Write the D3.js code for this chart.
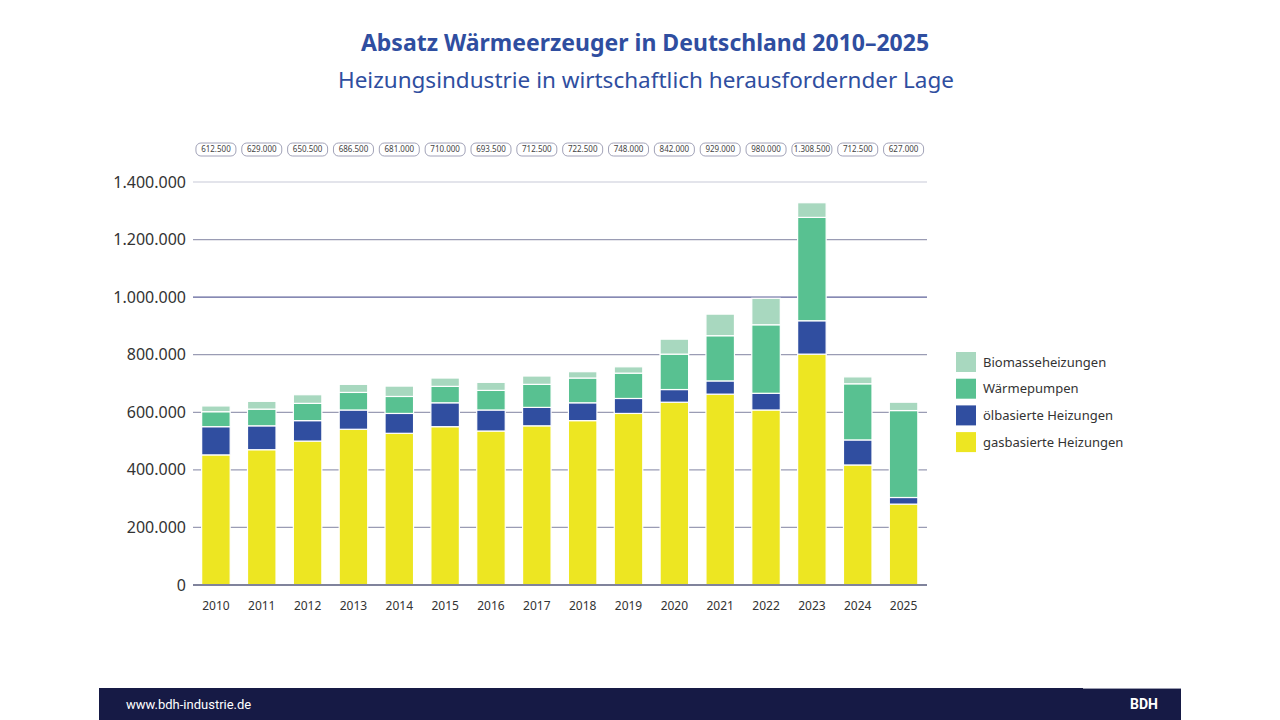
<!DOCTYPE html>
<html>
<head>
<meta charset="utf-8">
<script src="https://cdn.jsdelivr.net/npm/d3@7"></script>
<style>
  body { margin: 0; background: #fff; }
  svg { display: block; font-family: "Noto Sans", sans-serif; }
</style>
</head>
<body>
<svg id="chart" width="1280" height="720"></svg>
<script>
// values in units
var years = ["2010","2011","2012","2013","2014","2015","2016","2017","2018","2019","2020","2021","2022","2023","2024","2025"];
var gas = [452000,470000,500000,541000,527000,550000,535000,553000,571000,596000,635000,663000,608000,802000,417000,281000];
var oil = [98000,83000,71000,67000,69000,83000,73000,64000,62000,52000,44000,46000,58000,116000,87000,23000];
var heatpump = [52000,58000,60000,61000,59000,57000,68000,80000,86000,88000,123000,157000,238000,359000,195000,302000];
var biomass = [20000,27000,30000,28000,36000,29000,28000,29000,22000,22000,52000,75000,92000,51000,24000,29000];
var totalLabels = ["612.500","629.000","650.500","686.500","681.000","710.000","693.500","712.500","722.500","748.000","842.000","929.000","980.000","1.308.500","712.500","627.000"];
var yTicks = [0,200000,400000,600000,800000,1000000,1200000,1400000];

var seriesKeys = ["gas","oil","heatpump","biomass"];
var seriesNames = {gas:"gasbasierte Heizungen", oil:"ölbasierte Heizungen", heatpump:"Wärmepumpen", biomass:"Biomasseheizungen"};
var colors = {gas:"#ede622", oil:"#304ea0", heatpump:"#58c191", biomass:"#a8d8bf"};

var rows = years.map(function(y, i) {
  return {year:y, gas:gas[i], oil:oil[i], heatpump:heatpump[i], biomass:biomass[i]};
});

var de = d3.formatLocale({decimal:",", thousands:".", grouping:[3], currency:["","€"]});
var fmt = de.format(",d");

var svg = d3.select("#chart");

var x = d3.scaleBand().domain(years).range([193, 926.5]).paddingInner(0.378).paddingOuter(0.189);
var y = d3.scaleLinear().domain([0, 1400000]).range([585, 182]);

// title
svg.append("text").attr("x", 645).attr("y", 51).attr("text-anchor", "middle")
  .style("font-size", "23px").style("font-weight", "bold").style("fill", "#2f4ea0")
  .text("Absatz Wärmeerzeuger in Deutschland 2010–2025");
svg.append("text").attr("x", 646).attr("y", 88).attr("text-anchor", "middle")
  .style("font-size", "22.5px").style("fill", "#2f4ea0")
  .text("Heizungsindustrie in wirtschaftlich herausfordernder Lage");

// gridlines
function gridColor(d) {
  if (d === 1400000) return "#c8cad8";
  if (d === 1000000) return "#5e629a";
  return "#9a9cb4";
}
svg.append("g").selectAll("line").data(yTicks.filter(function(d){ return d > 0; })).join("line")
  .attr("x1", 193).attr("x2", 927)
  .attr("y1", function(d){ return y(d); }).attr("y2", function(d){ return y(d); })
  .attr("stroke", gridColor).attr("stroke-width", 1.2);

// y labels
svg.append("g").selectAll("text").data(yTicks).join("text")
  .attr("x", 186).attr("y", function(d){ return y(d); }).attr("dy", "0.35em")
  .attr("text-anchor", "end").style("font-size", "16px").style("fill", "#333")
  .text(function(d){ return fmt(d); });

// stacked bars
var stack = d3.stack().keys(seriesKeys)(rows);
svg.append("g").selectAll("g").data(stack).join("g")
  .attr("fill", function(s){ return colors[s.key]; })
  .selectAll("rect").data(function(s){ return s; }).join("rect")
  .attr("x", function(d){ return x(d.data.year); })
  .attr("width", x.bandwidth())
  .attr("y", function(d){ return y(d[1]); })
  .attr("height", function(d){ return y(d[0]) - y(d[1]); })
  .attr("stroke", "#fff").attr("stroke-width", 1.2);

// baseline
svg.append("line").attr("x1", 193).attr("x2", 927).attr("y1", y(0)).attr("y2", y(0))
  .attr("stroke", "#80839c").attr("stroke-width", 2);

// x labels
svg.append("g").selectAll("text").data(years).join("text")
  .attr("x", function(d){ return x(d) + x.bandwidth() / 2; }).attr("y", 610)
  .attr("text-anchor", "middle").style("font-size", "12px").style("fill", "#333")
  .text(function(d){ return d; });

// total pills
var pills = svg.append("g").selectAll("g").data(years).join("g")
  .attr("transform", function(d){ return "translate(" + (x(d) + x.bandwidth() / 2) + ",149.5)"; });
pills.append("rect").attr("x", -20).attr("y", -6.5).attr("width", 40).attr("height", 13)
  .attr("rx", 5).attr("fill", "#fff").attr("stroke", "#8a8ca6").attr("stroke-width", 0.8);
pills.append("text").attr("dy", "0.35em").attr("text-anchor", "middle")
  .style("font-size", "8px").style("fill", "#444")
  .text(function(d, i){ return totalLabels[i]; });

// legend
var legendKeys = ["biomass","heatpump","oil","gas"];
var lg = svg.append("g").selectAll("g").data(legendKeys).join("g")
  .attr("transform", function(d, i){ return "translate(956," + (352 + i * 26.7) + ")"; });
lg.append("rect").attr("width", 20).attr("height", 20).attr("fill", function(d){ return colors[d]; });
lg.append("text").attr("x", 27).attr("y", 10).attr("dy", "0.35em")
  .style("font-size", "13px").style("fill", "#333")
  .text(function(d){ return seriesNames[d]; });

// footer
svg.append("rect").attr("x", 99).attr("y", 688).attr("width", 1082).attr("height", 32).attr("fill", "#161a45");
svg.append("line").attr("x1", 1083).attr("x2", 1181).attr("y1", 688.5).attr("y2", 688.5).attr("stroke", "#9a9cb0");
svg.append("text").attr("x", 126).attr("y", 704).attr("dy", "0.35em")
  .style("font-family", "Roboto, sans-serif").style("font-size", "13px").style("fill", "#fff")
  .text("www.bdh-industrie.de");
svg.append("text").attr("x", 1158).attr("y", 704).attr("dy", "0.35em").attr("text-anchor", "end")
  .style("font-family", "Roboto, sans-serif").style("font-size", "14px").style("font-weight", "bold").style("fill", "#fff")
  .text("BDH");
</script>
</body>
</html>
